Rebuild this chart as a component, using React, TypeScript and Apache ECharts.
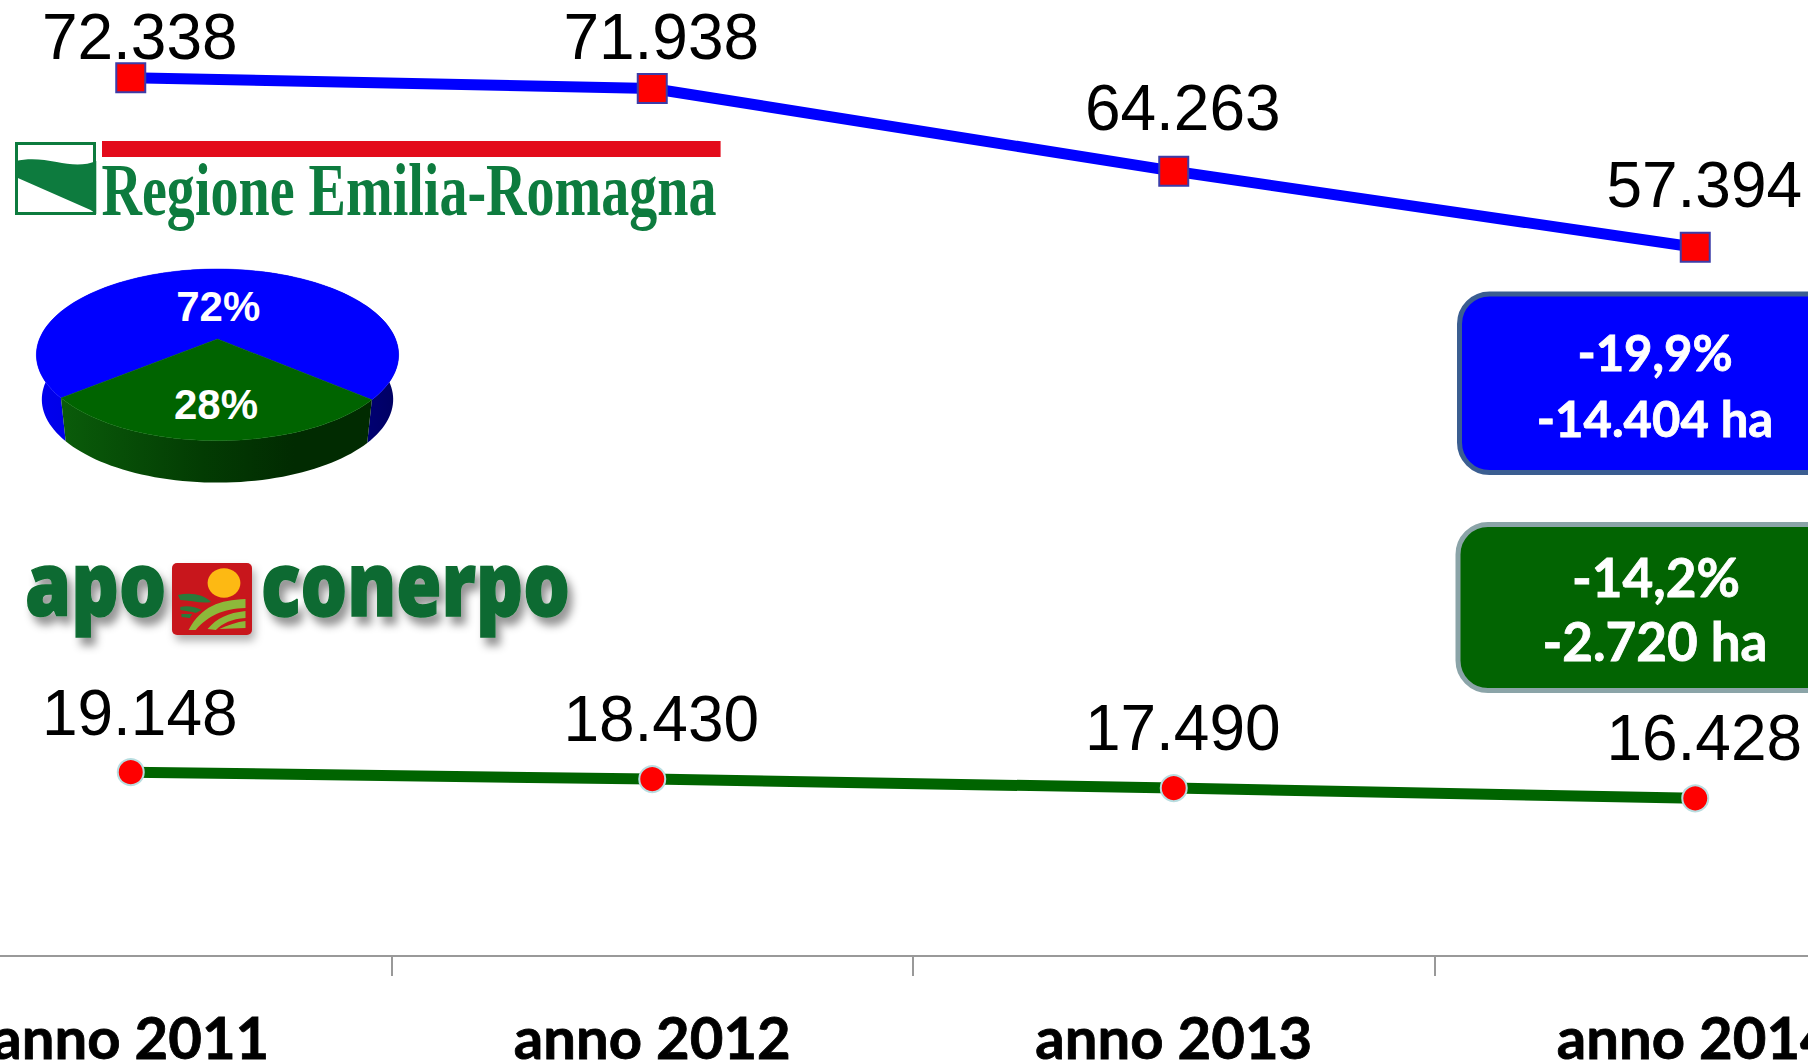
import React, { useEffect, useRef } from "react";
import * as echarts from "echarts";

const categories = ["anno 2011", "anno 2012", "anno 2013", "anno 2014"];
const greenValues = [19148, 18430, 17490, 16428];
const blueValues = [72338, 71938, 64263, 57394];
const pieShares = [72, 28];
const pieColors = ["#0000ff", "#006400"];

const blueLabelLift = [-41, -51, -63, -62];
const greenLabelLift = [-59, -60, -60, -60];
const pieLabelRadius = [0.42, 0.69];

const blueBoxLines = ["-19,9%", "-14.404 ha"];
const greenBoxLines = ["-14,2%", "-2.720 ha"];

const GREEN_LOGO = "#0d7b3e";
const APO_GREEN = "#0b6b30";

echarts.graphic.registerShape(
  "rerFlag",
  echarts.graphic.extendPath(
    "M11 161 C20 158 30 159 40 162 C50 165 60 166 68 161 L68 214 L64 210 L11 177 Z",
    {}
  )
);
echarts.graphic.registerShape(
  "apoFields",
  echarts.graphic.extendPath(
    "M159 630 C170 606 185 600 207 599 L207 608 C188 609 176 615 165 630 Z M175 629 C183 618 192 613 207 611 L207 618 C195 619 188 623 182 630 Z M185 629 C192 625 200 622 207 621 L207 628 Z",
    {}
  )
);
echarts.graphic.registerShape(
  "apoMarks",
  echarts.graphic.extendPath(
    "M150 595 C160 592 172 594 178 602 C170 604 160 600 152 600 Z M152 607 C158 605 165 607 170 610 L165 613 C160 611 155 611 152 610 Z M153 614 L162 614 L160 618 L153 617 Z",
    {}
  )
);

// Perspective projection of the pie's disc
const PIE = { cx: 217.5, cy: 339, rx: 178, ry: 82.9, k: 0.1846, wallDrop: 45, wallScale: 0.97 };
const project = (deg: number, radius = 1, wall = false) => {
  const a = (deg * Math.PI) / 180;
  const u = Math.sin(a) * radius;
  const v = Math.cos(a) * radius;
  const d = 1 - PIE.k * v;
  const s = wall ? PIE.wallScale : 1;
  return [PIE.cx + (s * PIE.rx * u) / d, PIE.cy + (wall ? PIE.wallDrop : 0) + (s * PIE.ry * v) / d];
};
const PIE_START = 49.8;
const sliceRange = (i: number) => {
  const before = pieShares.slice(0, i).reduce((a, b) => a + b, 0);
  const total = pieShares.reduce((a, b) => a + b, 0);
  const start = PIE_START + (before / total) * 360;
  return [start, start + (pieShares[i] / total) * 360];
};
const arc = (from: number, to: number, wall = false) => {
  const pts: number[][] = [];
  const n = Math.ceil(Math.abs(to - from) / 2);
  for (let j = 0; j <= n; j++) pts.push(project(from + ((to - from) * j) / n, 1, wall));
  return pts;
};

const wallFills = [
  new echarts.graphic.LinearGradient(0, 0, 1, 0, [
    { offset: 0, color: "#0000f0" },
    { offset: 0.5, color: "#0000c0" },
    { offset: 0.85, color: "#000080" },
    { offset: 1, color: "#000060" },
  ]),
  new echarts.graphic.LinearGradient(0, 0, 1, 0, [
    { offset: 0, color: "#0a5c0a" },
    { offset: 0.45, color: "#033c03" },
    { offset: 0.75, color: "#012b01" },
    { offset: 1, color: "#012b01" },
  ]),
];

const fmt = (v: number) => String(v).replace(/\B(?=(\d{3})+$)/g, ".");

const boxText = (text: string, x: number, y: number, size: number) => ({
  type: "text",
  x,
  y,
  z: 20,
  style: {
    text,
    fill: "#ffffff",
    stroke: "#ffffff",
    lineWidth: 0.8,
    fontFamily: "Lato",
    fontWeight: "bold",
    fontSize: size,
    align: "center",
    verticalAlign: "middle",
  },
});

const apoShadow = {
  textShadowColor: "rgba(0,0,0,0.42)",
  textShadowBlur: 9,
  textShadowOffsetX: 5,
  textShadowOffsetY: 8,
};

function wallShape(i: number) {
  const [from, to] = sliceRange(i);
  const pts = [...arc(from, to), ...arc(to, from, true)];
  return { type: "polygon", shape: { points: pts }, style: { fill: wallFills[i] } };
}

function faceShape(i: number) {
  const [from, to] = sliceRange(i);
  const mid = (from + to) / 2;
  const [lx, ly] = project(mid, pieLabelRadius[i]);
  return {
    type: "group",
    children: [
      {
        type: "polygon",
        shape: { points: [[PIE.cx, PIE.cy], ...arc(from, to)] },
        style: { fill: pieColors[i], stroke: pieColors[i], lineWidth: 0.5 },
      },
      {
        type: "text",
        x: lx,
        y: ly,
        style: {
          text: `${pieShares[i]}%`,
          fill: "#ffffff",
          fontFamily: "Liberation Sans",
          fontWeight: "bold",
          fontSize: 42,
          align: "center",
          verticalAlign: "middle",
        },
      },
    ],
  };
}

export default function App() {
  const ref = useRef<HTMLDivElement>(null);
  useEffect(() => {
    const chart = echarts.init(ref.current!, undefined, { renderer: "svg" });
    chart.setOption({
      animation: false,
      backgroundColor: "#ffffff",
      grid: { left: -130, top: -4, width: 2086, height: 960, containLabel: false, outerBoundsMode: "none" },
      xAxis: {
        type: "category",
        data: categories,
        axisLine: { show: true, lineStyle: { color: "#999999", width: 2 } },
        axisTick: { show: true, length: 20, lineStyle: { color: "#999999", width: 2 } },
        axisLabel: {
          margin: 51,
          interval: 0,
          color: "#000000",
          fontFamily: "Lato",
          fontWeight: "bold",
          fontSize: 58,
          textBorderColor: "#000000",
          textBorderWidth: 0.8,
          hideOverlap: false,
        },
      },
      yAxis: { type: "value", min: 0, max: 100000, show: false, splitLine: { show: false } },
      series: [
        {
          type: "line",
          stack: "total",
          data: greenValues.map((value, i) => ({
            value,
            label: { offset: [9, greenLabelLift[i]] },
          })),
          lineStyle: { color: "#006400", width: 11 },
          symbol: "circle",
          symbolSize: 26,
          itemStyle: { color: "#ff0000", borderColor: "#b8dde0", borderWidth: 2 },
          label: {
            show: true,
            position: "inside",
            formatter: (p: any) => fmt(p.value),
            color: "#000000",
            fontFamily: "Liberation Sans",
            fontSize: 64,
          },
          clip: false,
          z: 3,
        },
        {
          type: "line",
          stack: "total",
          data: blueValues.map((value, i) => ({
            value,
            label: { offset: [9, blueLabelLift[i]] },
          })),
          lineStyle: { color: "#0000ff", width: 11 },
          symbol: "rect",
          symbolSize: 29,
          itemStyle: { color: "#ff0000", borderColor: "#3c3ca8", borderWidth: 2 },
          label: {
            show: true,
            position: "inside",
            formatter: (p: any) => fmt(p.value),
            color: "#000000",
            fontFamily: "Liberation Sans",
            fontSize: 64,
          },
          clip: false,
          z: 3,
        },
        {
          type: "custom",
          coordinateSystem: "none",
          silent: true,
          z: 4,
          data: pieShares,
          renderItem: (params: any) => wallShape(params.dataIndex),
        },
        {
          type: "custom",
          coordinateSystem: "none",
          silent: true,
          z: 5,
          data: pieShares,
          renderItem: (params: any) => faceShape(params.dataIndex),
        },
      ],
      graphic: [
        { type: "rect", z: 20, shape: { x: 102, y: 141, width: 618.6, height: 16 }, style: { fill: "#e30b1b" } },
        { type: "rect", z: 20, shape: { x: 16.5, y: 143.5, width: 78, height: 70 }, style: { fill: "#ffffff", stroke: GREEN_LOGO, lineWidth: 3 } },
        { type: "rerFlag", z: 21, scaleX: 1.416, style: { fill: GREEN_LOGO } },
        {
          type: "text",
          z: 20,
          x: 101.5,
          y: 190,
          scaleX: 0.768,
          style: {
            text: "Regione Emilia-Romagna",
            fill: GREEN_LOGO,
            fontFamily: "Liberation Serif",
            fontWeight: "bold",
            fontSize: 73,
            align: "left",
            verticalAlign: "middle",
          },
        },
        {
          type: "text",
          z: 20,
          x: 25,
          y: 582,
          scaleX: 0.843,
          style: {
            text: "apo",
            fill: APO_GREEN,
            stroke: APO_GREEN,
            lineWidth: 1.5,
            fontFamily: "Open Sans",
            fontWeight: 800,
            fontSize: 88,
            align: "left",
            verticalAlign: "middle",
            ...apoShadow,
          },
        },
        {
          type: "text",
          z: 20,
          x: 261,
          y: 582,
          scaleX: 0.833,
          style: {
            text: "conerpo",
            fill: APO_GREEN,
            stroke: APO_GREEN,
            lineWidth: 1.5,
            fontFamily: "Open Sans",
            fontWeight: 800,
            fontSize: 88,
            align: "left",
            verticalAlign: "middle",
            ...apoShadow,
          },
        },
        {
          type: "rect",
          z: 20,
          shape: { x: 172, y: 563, width: 80, height: 72, r: 5 },
          style: { fill: "#c8161d", shadowColor: "rgba(0,0,0,0.3)", shadowBlur: 8, shadowOffsetX: 3, shadowOffsetY: 6 },
        },
        { type: "ellipse", z: 21, shape: { cx: 224, cy: 583, rx: 16.4, ry: 14.7 }, style: { fill: "#fdb913" } },
        { type: "apoFields", z: 21, scaleX: 1.186, style: { fill: "#8db83a" } },
        { type: "apoMarks", z: 21, scaleX: 1.186, style: { fill: "#2a7a3a" } },

        {
          type: "rect",
          z: 19,
          shape: { x: 1459.5, y: 294, width: 400, height: 178.5, r: 30 },
          style: { fill: "#0000ff", stroke: "#3b5e91", lineWidth: 5 },
        },
        boxText(blueBoxLines[0], 1655, 352, 49),
        boxText(blueBoxLines[1], 1655, 418, 49),
        {
          type: "rect",
          z: 19,
          shape: { x: 1458, y: 524.5, width: 400, height: 166, r: 30 },
          style: { fill: "#026402", stroke: "#8ba4a8", lineWidth: 5 },
        },
        boxText(greenBoxLines[0], 1656, 576, 53),
        boxText(greenBoxLines[1], 1655, 640, 53),
      ],
    });
    return () => chart.dispose();
  }, []);

  return (
    <div
      ref={ref}
      style={{ position: "fixed", left: 0, top: 0, width: 1808, height: 1063, overflow: "hidden" }}
    />
  );
}
